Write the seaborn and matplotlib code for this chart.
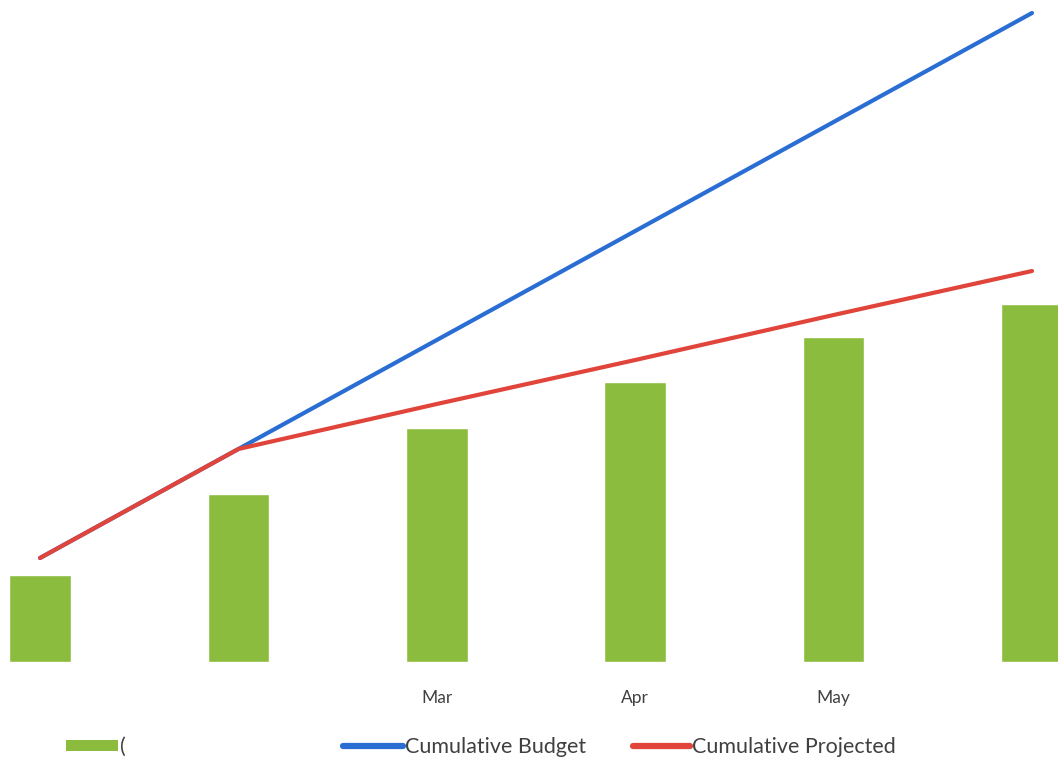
import numpy as np
import pandas as pd
import matplotlib
matplotlib.use("Agg")
import matplotlib.pyplot as plt
from matplotlib.patches import Patch
from matplotlib.lines import Line2D
import seaborn as sns

# Monthly data
months = ["Jan", "Feb", "Mar", "Apr", "May", "Jun"]
tick_labels = ["", "", "Mar", "Apr", "May", ""]
actual = [87, 168, 234, 280, 325, 358]
cumulative_budget = [104, 213, 322, 431, 540, 649]
cumulative_projected = [104, 213, 258, 302, 347, 391]
bar_label = "("

GREEN = "#8cbc3e"
BLUE = "#2a6dd3"
RED = "#e0443a"
TEXT = "#404040"

sns.set_theme(style="white")
plt.rcParams["font.family"] = ["Lato", "DejaVu Sans"]

W, H = 1058, 757
fig = plt.figure(figsize=(W / 100, H / 100), dpi=100)
fig.patch.set_facecolor("white")

# Axes fill the width; category spacing set through the x limits
base_px = 662
ax = fig.add_axes([0, (H - base_px) / H, 1, base_px / H])

df = pd.DataFrame({"month": months, "actual": actual})
sns.barplot(data=df, x="month", y="actual", color=GREEN, width=0.31,
            saturation=1, ax=ax, zorder=2)

pos = np.arange(len(months))
sns.lineplot(x=pos, y=cumulative_budget, color=BLUE, linewidth=3.0,
             sort=False, ax=ax, zorder=3)
sns.lineplot(x=pos, y=cumulative_projected, color=RED, linewidth=3.0,
             sort=False, ax=ax, zorder=4)

step = 198.4
ax.set_xlim(-40 / step, (W - 40) / step)
ax.set_ylim(0, base_px)
ax.set_xticks(pos)
ax.set_xticklabels(tick_labels, fontsize=12.5, color=TEXT)
ax.tick_params(axis="x", length=0, pad=20)
ax.set_yticks([])
ax.set_xlabel("")
ax.set_ylabel("")
for s in ax.spines.values():
    s.set_visible(False)
ax.set_facecolor("none")

# Legend entries along the bottom
leg_y = (H - 747) / H
entries = [
    (Patch(facecolor=GREEN, edgecolor="none"), bar_label, 66 / W, 2.42),
    (Line2D([], [], color=BLUE, linewidth=4.5), "Cumulative Budget", 343 / W, 2.8),
    (Line2D([], [], color=RED, linewidth=4.5), "Cumulative Projected", 633 / W, 2.65),
]
for handle, label, x0, hl in entries:
    leg = fig.legend([handle], [label], loc="center left",
                     bbox_to_anchor=(x0, leg_y), frameon=False,
                     fontsize=15.5, handlelength=hl, handleheight=0.45,
                     handletextpad=0.1, borderaxespad=0, borderpad=0)
    for t in leg.get_texts():
        t.set_color(TEXT)

fig.savefig("out.png", dpi=100, facecolor="white")
